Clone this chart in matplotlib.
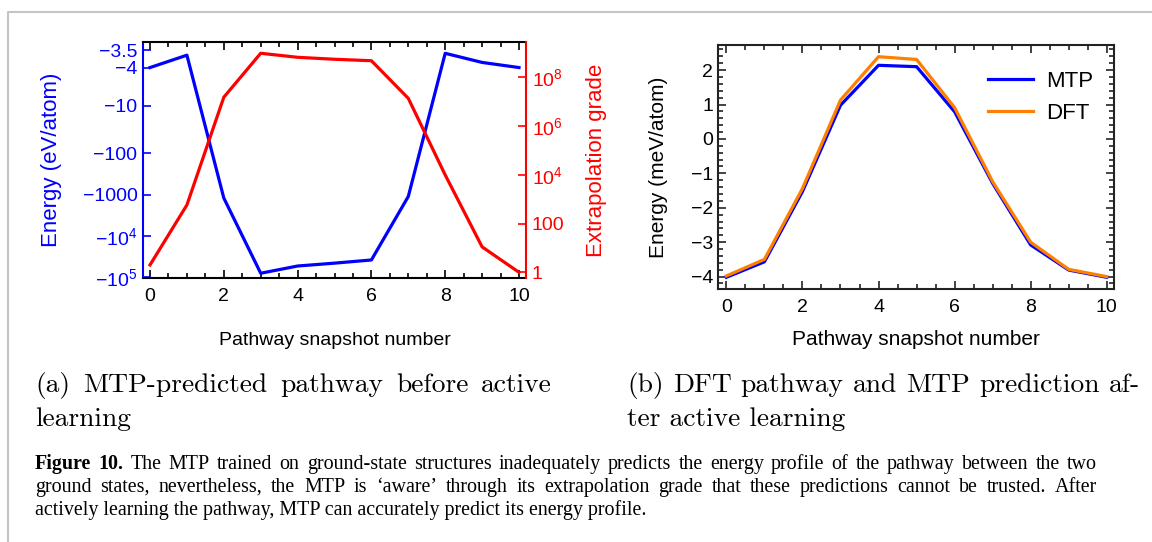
import numpy as np
import matplotlib.pyplot as plt
from matplotlib.lines import Line2D
from matplotlib.ticker import FixedLocator, MultipleLocator, NullLocator

plt.rcParams['font.family'] = 'Liberation Sans'
plt.rcParams['mathtext.fontset'] = 'custom'
plt.rcParams['mathtext.rm'] = 'Liberation Sans'
plt.rcParams['mathtext.it'] = 'Liberation Sans:italic'

# data
snapshot = np.arange(11)
energy_before = [-4.0, -3.6, -1200, -8.1e4, -5.4e4, -4.6e4, -3.85e4, -1100, -3.56, -3.8, -4.0]
grade_before = [2.0, 575, 1.5e7, 9.5e8, 6.5e8, 5.4e8, 4.7e8, 1.35e7, 9.8e3, 11, 1.0]
energy_mtp = [-4.02, -3.57, -1.53, 0.98, 2.14, 2.10, 0.79, -1.29, -3.08, -3.81, -4.02]
energy_dft = [-3.98, -3.50, -1.44, 1.13, 2.39, 2.31, 0.91, -1.24, -3.00, -3.79, -4.00]

energy_ticks = [-3.5, -4, -10, -100, -1000, -1e4, -1e5]
energy_ticklabels = ['−3.5', '−4', '−10', '−100', '−1000', r'$-10^4$', r'$-10^5$']
grade_ticks = [1, 100, 1e4, 1e6, 1e8]
grade_ticklabels = ['1', '100', r'$10^4$', r'$10^6$', r'$10^8$']

caption_a = ["(a) MTP-predicted pathway before active", "learning"]
caption_b = ["(b) DFT pathway and MTP prediction af-", "ter active learning"]
caption_fig = [
    "Figure 10. The MTP trained on ground-state structures inadequately predicts the energy profile of the pathway between the two",
    "ground states, nevertheless, the MTP is ‘aware’ through its extrapolation grade that these predictions cannot be trusted. After",
    "actively learning the pathway, MTP can accurately predict its energy profile.",
]

W, H = 1152, 542
fig = plt.figure(figsize=(W / 100, H / 100), dpi=100)

BLUE = '#0000ff'
RED = '#ff0000'
ORANGE = '#ff8000'

# energy axis of panel (a): log of distance below about -3.2 eV/atom
OFFSET = 3.2
def fwd(e):
    return -np.log10(np.clip(-np.asarray(e, dtype=float) - OFFSET, 1e-12, None))
def inv(f):
    return -(10 ** (-np.asarray(f, dtype=float)) + OFFSET)


def box(px_left, px_top, px_right, px_bottom):
    return [px_left / W, 1 - px_bottom / H, (px_right - px_left) / W, (px_bottom - px_top) / H]


# ---- panel (a)
ax = fig.add_axes(box(143, 42, 526, 278))
ax.plot(snapshot, energy_before, color=BLUE, lw=2.3)
ax.set_yscale('function', functions=(fwd, inv))
ax.set_ylim(-105700, -3.391)
ax.set_xlim(-0.19, 10.19)
ax.yaxis.set_major_locator(FixedLocator(energy_ticks))
ax.set_yticklabels(energy_ticklabels)
ax.yaxis.set_minor_locator(NullLocator())
ax.xaxis.set_major_locator(MultipleLocator(2))
ax.xaxis.set_minor_locator(MultipleLocator(0.5))
ax.tick_params(axis='x', which='both', direction='in', top=True, bottom=True,
               labelsize=14, width=1.2, color='black', pad=7)
ax.tick_params(axis='x', which='major', length=6)
ax.tick_params(axis='x', which='minor', length=3.5)
ax.tick_params(axis='y', which='major', direction='in', length=6, width=1.2,
               color=BLUE, labelcolor=BLUE, labelsize=14, pad=4)
for s in ['top', 'bottom']:
    ax.spines[s].set_linewidth(1.5)
    ax.spines[s].set_color('black')
ax.spines['left'].set_linewidth(1.5)
ax.spines['left'].set_color(BLUE)
ax.spines['right'].set_visible(False)
ax.set_ylabel('Energy (eV/atom)', color=BLUE, fontsize=16, va='center')
ax.yaxis.set_label_coords(-0.2376, 0.5)
ax.set_xlabel('Pathway snapshot number', fontsize=14, va='center')
ax.xaxis.set_label_coords(0.5, -0.263)

ax2 = ax.twinx()
ax2.plot(snapshot, grade_before, color=RED, lw=2.3)
ax2.set_yscale('log')
ax2.set_ylim(10 ** -0.234, 10 ** 9.44)
ax2.yaxis.set_major_locator(FixedLocator(grade_ticks))
ax2.set_yticklabels(grade_ticklabels)
ax2.yaxis.set_minor_locator(NullLocator())
ax2.tick_params(axis='y', which='major', direction='in', length=6, width=1.2,
                color=RED, labelcolor=RED, labelsize=14, pad=4)
for s in ['left', 'top', 'bottom']:
    ax2.spines[s].set_visible(False)
ax2.spines['right'].set_linewidth(1.5)
ax2.spines['right'].set_color(RED)
ax2.set_ylabel('Extrapolation grade', color=RED, fontsize=16, va='center')
ax2.yaxis.set_label_coords(1.185, 0.5)

# ---- panel (b)
bx = fig.add_axes(box(718, 45, 1114, 289))
bx.plot(snapshot, energy_mtp, color=BLUE, lw=2.3, label='MTP')
bx.plot(snapshot, energy_dft, color=ORANGE, lw=2.3, label='DFT')
bx.set_xlim(-0.22, 10.19)
bx.set_ylim(-4.36, 2.73)
bx.xaxis.set_major_locator(MultipleLocator(2))
bx.xaxis.set_minor_locator(MultipleLocator(0.5))
bx.yaxis.set_major_locator(MultipleLocator(1))
bx.yaxis.set_minor_locator(MultipleLocator(0.2))
bx.set_yticks(range(-4, 3))
bx.set_yticklabels([str(v).replace('-', '−') for v in range(-4, 3)])
bx.tick_params(which='both', direction='in', top=True, right=True, width=1.2,
               color='#222222', labelsize=14)
bx.tick_params(which='major', length=6)
bx.tick_params(which='minor', length=3.5)
bx.tick_params(axis='x', pad=7)
for s in bx.spines.values():
    s.set_linewidth(1.5)
    s.set_color('#222222')
bx.set_ylabel('Energy (meV/atom)', fontsize=15, va='center')
bx.yaxis.set_label_coords(-0.149, 0.5)
bx.set_xlabel('Pathway snapshot number', fontsize=15, va='center')
bx.xaxis.set_label_coords(0.5, -0.209)
bx.legend(loc='upper right', bbox_to_anchor=(0.975, 0.94), frameon=False, fontsize=16,
          handlelength=2.0, handletextpad=0.6, labelspacing=0.5, borderpad=0)

# ---- captions
renderer = fig.canvas.get_renderer()


def justified(line, x0, x1, y, bold_words=0, **kw):
    words = line.split(' ')
    texts = []
    for i, w in enumerate(words):
        weight = 'bold' if i < bold_words else 'normal'
        texts.append(fig.text(0, 1 - y / H, w, va='baseline', ha='left', fontweight=weight, **kw))
    widths = [t.get_window_extent(renderer).width for t in texts]
    gap = (x1 - x0 - sum(widths)) / (len(words) - 1)
    x = x0
    for t, w in zip(texts, widths):
        t.set_x(x / W)
        x += w + gap


def plain(line, x0, y, **kw):
    fig.text(x0 / W, 1 - y / H, line, va='baseline', ha='left', **kw)


cm = dict(family='cmr10', fontsize=19.8)
justified(caption_a[0], 35, 552, 392, **cm)
plain(caption_a[1], 35, 426, **cm)
justified(caption_b[0], 627, 1140, 392, **cm)
plain(caption_b[1], 627, 426, **cm)

serif = dict(family='Liberation Serif', fontsize=14.4)
justified(caption_fig[0], 35, 1097, 469, bold_words=2, **serif)
justified(caption_fig[1], 35, 1097, 492, **serif)
plain(caption_fig[2], 35, 515, **serif)

# grey page frame
fig.add_artist(Line2D([8 / W, 8 / W, 1], [0, 1 - 12 / H, 1 - 12 / H],
                      transform=fig.transFigure, color='#c4c4c4', lw=1.5))

fig.savefig('out.png', dpi=100)
